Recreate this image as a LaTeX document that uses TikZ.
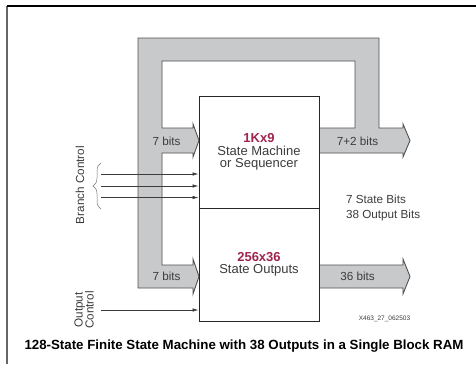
\documentclass[tikz,border=0pt]{standalone}
\usepackage{fontspec}
\setmainfont{Liberation Sans}
\usetikzlibrary{arrows.meta,positioning,calc,decorations.pathreplacing}

\definecolor{bandfill}{RGB}{200,201,203}
\definecolor{bandline}{RGB}{80,80,80}
\definecolor{ramred}{RGB}{160,36,80}
\definecolor{txt}{RGB}{60,60,60}

\newcommand{\boxfont}{\fontsize{13}{12.5}\selectfont}
\newcommand{\lblfont}{\fontsize{11.7}{11}\selectfont}
\newcommand{\capfont}{\fontsize{13.3}{14}\selectfont\bfseries}

\begin{document}
\begin{tikzpicture}[
    x=1pt, y=-1pt,
    band/.style={draw=bandline, fill=bandfill, line width=0.9pt, line join=miter},
    ram/.style={draw=black!85, fill=white, line width=1pt, minimum width=120pt,
                inner sep=0pt, align=center, font=\boxfont, text=txt},
    lbl/.style={font=\lblfont, text=txt},
    ctl/.style={-{Latex[length=6pt,width=3.5pt]}, draw=txt, line width=0.6pt},
    brc/.style={draw=black!55, line width=0.5pt, decorate,
                decoration={brace, amplitude=8pt}}
]
\useasboundingbox (0,0) rectangle (476,364);

% Frame
\draw[black!60, line width=1.2pt] (7,364) -- (7,6);
\draw[black, line width=1.2pt] (7,6) -- (476,6);

% Feedback loop with the two 7 bit inputs and the 7+2 bit output
\draw[band] (319,128) -- (355,128) -- (355,61) -- (162,61) -- (162,128)
    -- (193,128) -- (193,124) -- (199,140.5) -- (193,157) -- (193,153)
    -- (162,153) -- (162,265) -- (193,265) -- (193,259) -- (199,276.5)
    -- (193,294) -- (193,288) -- (138,288) -- (138,38) -- (379,38)
    -- (379,128) -- (403,128) -- (403,124) -- (410,140.5) -- (403,157)
    -- (403,153) -- (319,153) -- cycle;

% 36 bit output
\draw[band] (319,265) -- (403,265) -- (403,259) -- (410,276.5)
    -- (403,294) -- (403,288) -- (319,288) -- cycle;

% Block RAM
\node[ram, minimum height=112pt] (sm) at (259,152)
    {{\color{ramred}\bfseries 1Kx9}\\State Machine\\or Sequencer};
\node[ram, minimum height=113pt] (so) at (259,264.5)
    {{\color{ramred}\bfseries 256x36}\\State Outputs};

% Bus labels
\node[lbl] (inA) at (166.5,141) {7 bits};
\node[lbl] (inB) at (166.5,276) {7 bits};
\node[lbl] (outA) at (357.5,141) {7+2 bits};
\node[lbl] (outB) at (357.5,276) {36 bits};
\node[lbl, anchor=west, align=left, font=\fontsize{11.7}{15}\selectfont]
    (bits) at (342.5,207.5) {7 State Bits\\38 Output Bits};

% Branch control
\coordinate (b1) at (101,174);
\coordinate (b2) at (101,186);
\coordinate (b3) at (101,197.5);
\foreach \b in {b1,b2,b3}
    \draw[ctl] (\b) -- (\b -| sm.west);
\draw[brc] (101,209) -- (101,163);
\node[lbl, rotate=90] (bcl) at (80,185) {Branch Control};

% Output control
\coordinate (oc) at (101,310);
\draw[ctl] (oc) -- (oc -| so.west);
\node[lbl, rotate=90, align=center] (ocl) at (84,310) {Output\\Control};

% Figure code and caption
\node[font=\fontsize{6.5}{7}\selectfont, text=txt] (fig) at (384.5,319)
    {X463\_27\_062503};
\node[font=\capfont] (cap) at (244,346)
    {128-State Finite State Machine with 38 Outputs in a Single Block RAM};

\end{tikzpicture}
\end{document}
